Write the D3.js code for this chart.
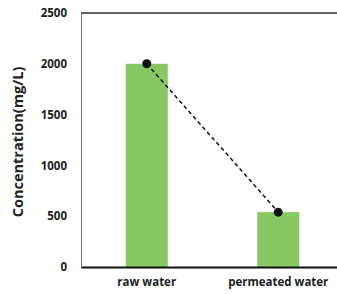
<!DOCTYPE html>
<html>
<head>
<meta charset="utf-8">
<script src="https://cdn.jsdelivr.net/npm/d3@7"></script>
<style>
  body { margin: 0; background: #fff; }
  text { font-family: "Open Sans", "DejaVu Sans", sans-serif; font-weight: bold; fill: #222; }
</style>
</head>
<body>
<div id="chart"></div>
<script>
// data
var categories = ["raw water", "permeated water"];
var concentration = [2000, 540];
var yTicks = [0, 500, 1000, 1500, 2000, 2500];

// set the dimensions and margins of the graph
var margin = { top: 13, right: -7, bottom: 27, left: 81 },
    width = 337 - margin.left - margin.right,
    height = 294 - margin.top - margin.bottom;

var svg = d3.select("#chart")
    .append("svg")
    .attr("width", 337)
    .attr("height", 294)
    .append("g")
    .attr("transform", "translate(" + margin.left + "," + margin.top + ")");

var x = d3.scaleBand().domain(categories).range([0, width])
    .paddingInner(0.68).paddingOuter(0.34);
var y = d3.scaleLinear().domain([0, 2500]).range([height, 0]);

// bars
svg.selectAll(".bar")
    .data(concentration)
    .enter()
    .append("rect")
    .attr("class", "bar")
    .attr("x", (d, i) => x(categories[i]))
    .attr("y", d => y(d))
    .attr("width", x.bandwidth())
    .attr("height", d => height - y(d))
    .attr("fill", "#88c864");

// top border
svg.append("line")
    .attr("x1", 0).attr("x2", width)
    .attr("y1", 0).attr("y2", 0)
    .attr("stroke", "#333")
    .attr("stroke-width", 1.5);

// y axis
var yAxis = d3.axisLeft(y).tickValues(yTicks).tickFormat(d3.format("d")).tickSize(0).tickPadding(14);
var gy = svg.append("g").call(yAxis);
gy.select(".domain").attr("stroke", "#777").attr("stroke-width", 1);
gy.selectAll("text").style("font-size", "11.5px").style("font-family", "'Open Sans', sans-serif");

// x axis
var xAxis = d3.axisBottom(x).tickSize(0).tickPadding(11);
var gx = svg.append("g")
    .attr("transform", "translate(0," + height + ")")
    .call(xAxis);
gx.select(".domain").attr("stroke", "#111").attr("stroke-width", 2);
gx.selectAll("text").style("font-size", "11.5px").style("font-family", "'Open Sans', sans-serif");

// dashed line + dots
var line = d3.line()
    .x((d, i) => x(categories[i]) + x.bandwidth() / 2)
    .y(d => y(d));

svg.append("path")
    .datum(concentration)
    .attr("d", line)
    .attr("fill", "none")
    .attr("stroke", "#111")
    .attr("stroke-width", 1.5)
    .attr("stroke-dasharray", "4,3");

svg.selectAll(".dot")
    .data(concentration)
    .enter()
    .append("circle")
    .attr("cx", (d, i) => x(categories[i]) + x.bandwidth() / 2)
    .attr("cy", d => y(d))
    .attr("r", 4.5)
    .attr("fill", "#111");

// y label
svg.append("text")
    .attr("transform", "translate(" + (-58) + "," + (height / 2 + 2) + ") rotate(-90)")
    .attr("text-anchor", "middle")
    .style("font-size", "14.5px")
    .text("Concentration(mg/L)");
</script>
</body>
</html>
